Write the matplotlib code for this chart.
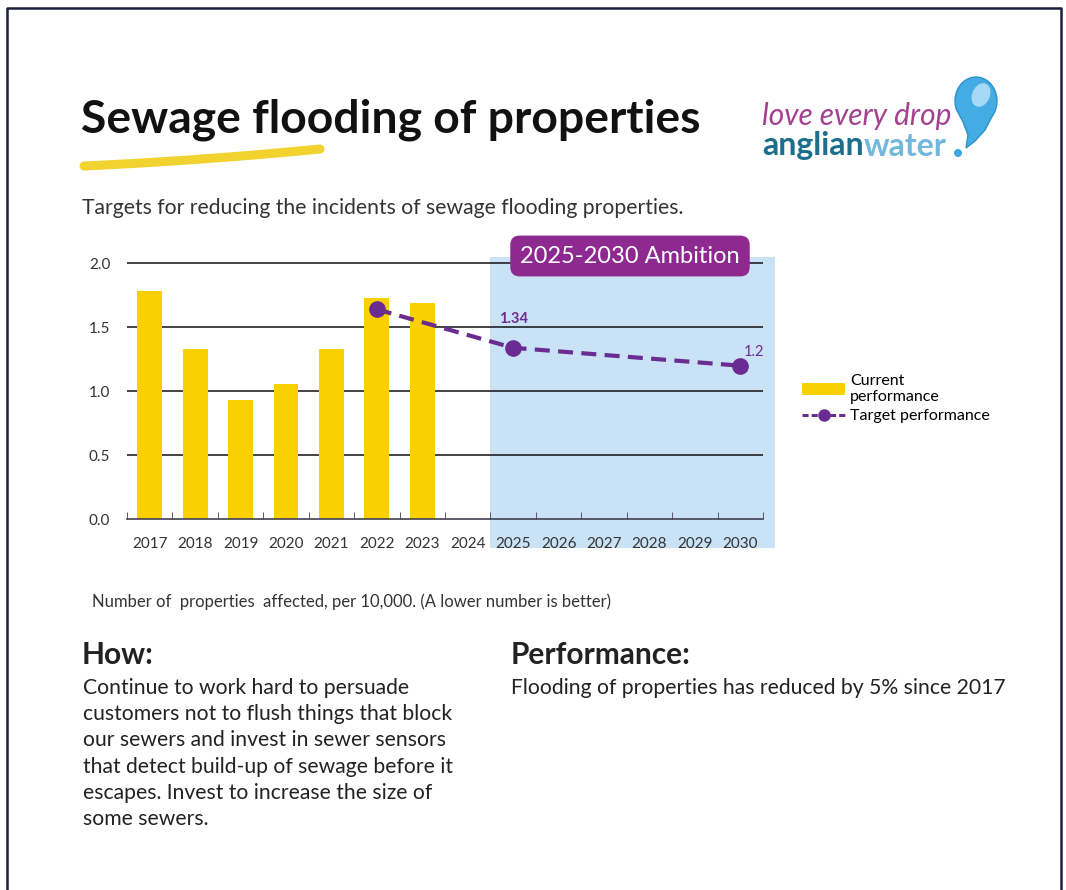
import numpy as np
import matplotlib.pyplot as plt
from matplotlib.patches import Rectangle, Ellipse, Polygon
from matplotlib.lines import Line2D
from matplotlib.patches import Patch

# data
years = [str(y) for y in range(2017, 2031)]
current_years = ['2017', '2018', '2019', '2020', '2021', '2022', '2023']
current = [1.78, 1.33, 0.93, 1.06, 1.33, 1.73, 1.69]
target_years = ['2022', '2025', '2030']
target = [1.64, 1.34, 1.2]
yticks = [0.0, 0.5, 1.0, 1.5, 2.0]

W, H = 1066, 890
FONT = 'Lato'
plt.rcParams['font.family'] = [FONT, 'DejaVu Sans']

fig = plt.figure(figsize=(W / 100, H / 100), dpi=100)


def px(x, y):
    return x / W, 1 - y / H


# chart axes, placed in pixels
left, right, bottom, top = 127, 763, 519.3, 256.9
ax = fig.add_axes([left / W, 1 - bottom / H, (right - left) / W, (bottom - top) / H])
ax.patch.set_visible(False)
xpos = {y: i for i, y in enumerate(years)}

ax.set_xlim(-0.5, len(years) - 0.5)
ax.set_ylim(0, 2.05)

# ambition shading
ax.add_patch(Rectangle((xpos['2025'] - 0.5, -0.224), 6.26, 2.274,
                       facecolor='#c9e2f5', edgecolor='none', zorder=0, clip_on=False))

for v in yticks[1:]:
    ax.axhline(v, color='#111111', lw=1.1, zorder=1)

ax.bar([xpos[y] for y in current_years], current, width=0.55, color='#fad000', zorder=2)
ax.plot([xpos[y] for y in target_years], target, color='#6a2c91', lw=3, ls=(0, (3.6, 2)),
        marker='o', ms=11, zorder=3)

for y, v in zip(target_years, target):
    if y == '2025':
        ax.text(xpos[y], v + 0.17, f'{v:g}', color='#6a2c91', fontsize=10.5, fontweight='bold',
                ha='center', va='bottom')
    elif y == '2030':
        ax.text(xpos[y] + 0.3, v + 0.05, f'{v:g}', color='#6a2c91', fontsize=10.5,
                ha='center', va='bottom')

ax.set_xticks(range(len(years)))
ax.set_xticklabels(years)
ax.set_xticks(np.arange(-0.5, len(years)), minor=True)
ax.tick_params(axis='x', which='major', length=0, pad=13, labelsize=11, labelcolor='#333333')
ax.tick_params(axis='x', which='minor', direction='in', length=5, color='#404050')
ax.set_yticks(yticks)
ax.set_yticklabels([f'{v:.1f}' for v in yticks])
ax.tick_params(axis='y', length=0, pad=12, labelsize=11, labelcolor='#333333')
for s in ['top', 'right', 'left']:
    ax.spines[s].set_visible(False)
ax.spines['bottom'].set_color('#404050')
ax.spines['bottom'].set_linewidth(1.2)

# legend
handles = [Patch(facecolor='#fad000', label='Current\nperformance'),
           Line2D([], [], color='#6a2c91', lw=2.2, ls=(0, (2, 1)), marker='o', ms=8,
                  label='Target performance')]
leg = fig.legend(handles=handles, loc='upper left', bbox_to_anchor=px(802, 374), frameon=False,
                 fontsize=11.5, handlelength=2.7, handletextpad=0.3, labelspacing=0.3,
                 borderaxespad=0, borderpad=0)

# ambition box
fig.text(*px(630, 256), '2025-2030 Ambition', color='white', fontsize=17, ha='center',
         va='center', bbox=dict(boxstyle='round,pad=0.42,rounding_size=0.4', facecolor='#8e2a8f',
                                edgecolor='none'))

# title and swoosh
fig.text(*px(81, 120), 'Sewage flooding of properties', fontsize=33.3, fontweight='bold',
         color='#111111', va='center')
t = np.linspace(0, 1, 50)
sx = 84 + 236 * t
sy = 166 - 17 * t + 6 * t * (1 - t)
fig.add_artist(Line2D(sx / W, 1 - sy / H, color='#f2d22e', lw=6.5, solid_capstyle='round'))

fig.text(*px(82, 208), 'Targets for reducing the incidents of sewage flooding properties.',
         fontsize=15.2, color='#333333', va='center')

# logo
fig.text(*px(762, 116), 'love every drop', fontsize=21.5, color='#a3408f', va='center',
         fontstyle='italic')
t1 = fig.text(*px(762, 146), 'anglian', fontsize=23, color='#1c6e8c', va='center',
              fontweight='bold')
renderer = fig.canvas.get_renderer()
x_end = t1.get_window_extent(renderer).x1
fig.text(x_end / W, 1 - 146 / H, 'water', fontsize=23, color='#73b8dc', va='center',
         fontweight='bold')

# droplet
cx, cy, rx, ry = 976, 101, 21, 24
ang = np.radians(np.linspace(200, -40, 40))
head = [(cx + rx * np.cos(a), cy - ry * np.sin(a)) for a in ang]
tail = [(985, 130), (975, 141), (966, 148), (968, 135), (963, 122)]
pts = head + tail
fig.add_artist(Polygon([(x / W, 1 - y / H) for x, y in pts], closed=True,
                       facecolor='#42ace3', edgecolor='#2d93cc', lw=1,
                       transform=fig.transFigure))
fig.add_artist(Ellipse((981 / W, 1 - 95 / H), 18 / W, 24 / H, angle=-15, facecolor='#c8e9f9',
                       edgecolor='none', alpha=0.75, transform=fig.transFigure))
fig.add_artist(Ellipse((958 / W, 1 - 153 / H), 8 / W, 8 / H, facecolor='#3fa9df',
                       edgecolor='none', transform=fig.transFigure))

# footnote and text blocks
fig.text(*px(92, 602), 'Number of  properties  affected, per 10,000. (A lower number is better)',
         fontsize=12, color='#333333', va='center')
fig.text(*px(82, 655), 'How:', fontsize=21.5, fontweight='bold', color='#222222', va='center')
fig.text(*px(511, 655), 'Performance:', fontsize=21.5, fontweight='bold', color='#222222',
         va='center')
how = ['Continue to work hard to persuade',
       'customers not to flush things that block',
       'our sewers and invest in sewer sensors',
       'that detect build-up of sewage before it',
       'escapes. Invest to increase the size of',
       'some sewers.']
for i, line in enumerate(how):
    fig.text(*px(83, 688 + 26.2 * i), line, fontsize=15.2, color='#222222', va='center')
fig.text(*px(511, 688), 'Flooding of properties has reduced by 5% since 2017', fontsize=15.2,
         color='#222222', va='center')

# frame
fig.add_artist(Line2D([7 / W, 7 / W, 1061 / W, 1061 / W], [0, 1 - 8 / H, 1 - 8 / H, 0],
                      color='#1a1f3d', lw=1.8))

fig.savefig('out.png', dpi=100)
